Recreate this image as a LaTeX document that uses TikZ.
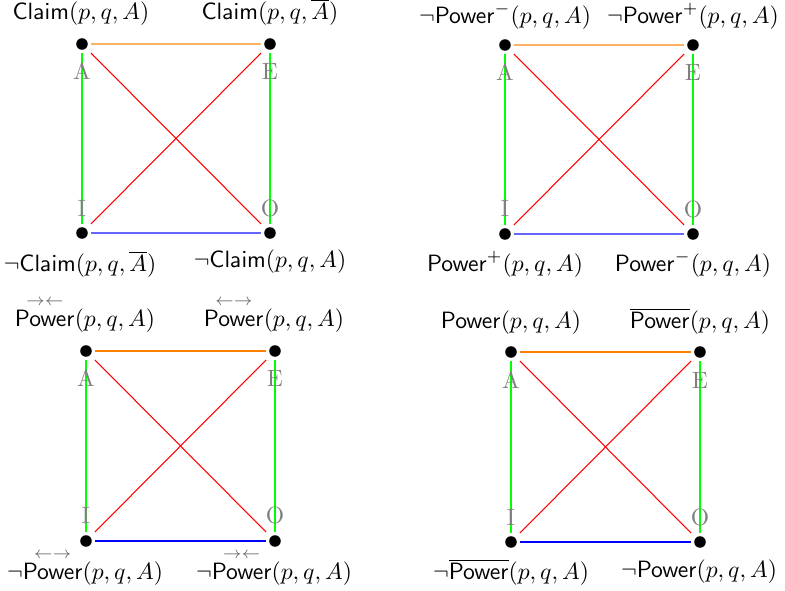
\documentclass[tikz,border=0pt]{standalone}
\usepackage{amsmath}
\usepackage{xcolor}
\begin{document}
\begin{tikzpicture}[x=0.4237pt,y=-0.4237pt,
  cornernode/.style={rectangle,minimum size=7.6pt,inner sep=0pt,outer sep=0pt},
  corner letter/.style={text=gray,font=\rmfamily,inner sep=0pt},
  sqlabel/.style={anchor=base,inner sep=0pt},
  contrary/.style={line width=0.75pt},
  diag/.style={line width=0.45pt,red}
]
\useasboundingbox (0,0) rectangle (785,591);
\newcommand{\arrs}[1]{\textcolor{black!60}{\scriptstyle #1}}
% ---------- corner nodes ----------
\node[cornernode] (a1) at (82,44) {};
\node[cornernode] (e1) at (270,44) {};
\node[cornernode] (i1) at (82,233) {};
\node[cornernode] (o1) at (270,233) {};
\node[cornernode] (a2) at (505,45) {};
\node[cornernode] (e2) at (693,45) {};
\node[cornernode] (i2) at (505,234) {};
\node[cornernode] (o2) at (693,234) {};
\node[cornernode] (a3) at (86,351) {};
\node[cornernode] (e3) at (275,351) {};
\node[cornernode] (i3) at (86,541) {};
\node[cornernode] (o3) at (275,541) {};
\node[cornernode] (a4) at (511,352) {};
\node[cornernode] (e4) at (700,352) {};
\node[cornernode] (i4) at (511,542) {};
\node[cornernode] (o4) at (700,542) {};
% ---------- connectors ----------
\draw[contrary,orange!60] (a1) -- (e1);
\draw[contrary,blue!60] (i1) -- (o1);
\draw[contrary,green] (a1) -- (i1);
\draw[contrary,green] (e1) -- (o1);
\draw[diag] (a1) -- (o1);
\draw[diag] (e1) -- (i1);
\draw[contrary,orange!60] (a2) -- (e2);
\draw[contrary,blue!60] (i2) -- (o2);
\draw[contrary,green] (a2) -- (i2);
\draw[contrary,green] (e2) -- (o2);
\draw[diag] (a2) -- (o2);
\draw[diag] (e2) -- (i2);
\draw[contrary,orange] (a3) -- (e3);
\draw[contrary,blue] (i3) -- (o3);
\draw[contrary,green] (a3) -- (i3);
\draw[contrary,green] (e3) -- (o3);
\draw[diag] (a3) -- (o3);
\draw[diag] (e3) -- (i3);
\draw[contrary,orange] (a4) -- (e4);
\draw[contrary,blue] (i4) -- (o4);
\draw[contrary,green] (a4) -- (i4);
\draw[contrary,green] (e4) -- (o4);
\draw[diag] (a4) -- (o4);
\draw[diag] (e4) -- (i4);
% ---------- dots ----------
\foreach \n in {a1,e1,i1,o1,a2,e2,i2,o2,a3,e3,i3,o3,a4,e4,i4,o4}
  \fill[black] (\n.center) circle (2.45pt);
% ---------- corner letters ----------
\node[corner letter] (la1) at (82,71) {A};
\node[corner letter] (le1) at (270,71) {E};
\node[corner letter] (li1) at (82,208) {I};
\node[corner letter] (lo1) at (270,208) {O};
\node[corner letter] (la2) at (505,72) {A};
\node[corner letter] (le2) at (693,72) {E};
\node[corner letter] (li2) at (505,208) {I};
\node[corner letter] (lo2) at (693,209) {O};
\node[corner letter] (la3) at (86,378) {A};
\node[corner letter] (le3) at (275,378) {E};
\node[corner letter] (li3) at (86,515) {I};
\node[corner letter] (lo3) at (275,515) {O};
\node[corner letter] (la4) at (511,380) {A};
\node[corner letter] (le4) at (700,380) {E};
\node[corner letter] (li4) at (511,517) {I};
\node[corner letter] (lo4) at (700,517) {O};
% ---------- labels ----------
\node[sqlabel] (ta1) at (81,20) {$\mathsf{Claim}(p,q,A)$};
\node[sqlabel] (te1) at (270,20) {$\mathsf{Claim}(p,q,\overline{A})$};
\node[sqlabel] (ti1) at (80,272) {$\neg\mathsf{Claim}(p,q,\overline{A})$};
\node[sqlabel] (to1) at (270,268) {$\neg\mathsf{Claim}(p,q,A)$};
\node[sqlabel] (ta2) at (505,24) {$\neg\mathsf{Power}^-(p,q,A)$};
\node[sqlabel] (te2) at (693,24) {$\neg\mathsf{Power}^+(p,q,A)$};
\node[sqlabel] (ti2) at (505,272) {$\mathsf{Power}^+(p,q,A)$};
\node[sqlabel] (to2) at (693,272) {$\mathsf{Power}^-(p,q,A)$};
\node[sqlabel] (ta4) at (511,329) {$\mathsf{Power}(p,q,A)$};
\node[sqlabel] (te4) at (700,329) {$\overline{\mathsf{Power}}(p,q,A)$};
\node[sqlabel] (ti4) at (511,580) {$\neg\overline{\mathsf{Power}}(p,q,A)$};
\node[sqlabel] (to4) at (699,578) {$\neg\mathsf{Power}(p,q,A)$};
\node[sqlabel] (ta3) at (85,327) {$\overset{\arrs{\rightarrow\leftarrow}}{\mathsf{Power}}(p,q,A)$};
\node[sqlabel] (te3) at (274,327) {$\overset{\arrs{\leftarrow\rightarrow}}{\mathsf{Power}}(p,q,A)$};
\node[sqlabel] (ti3) at (85,580) {$\neg\overset{\arrs{\leftarrow\rightarrow}}{\mathsf{Power}}(p,q,A)$};
\node[sqlabel] (to3) at (274,580) {$\neg\overset{\arrs{\rightarrow\leftarrow}}{\mathsf{Power}}(p,q,A)$};
\end{tikzpicture}
\end{document}
